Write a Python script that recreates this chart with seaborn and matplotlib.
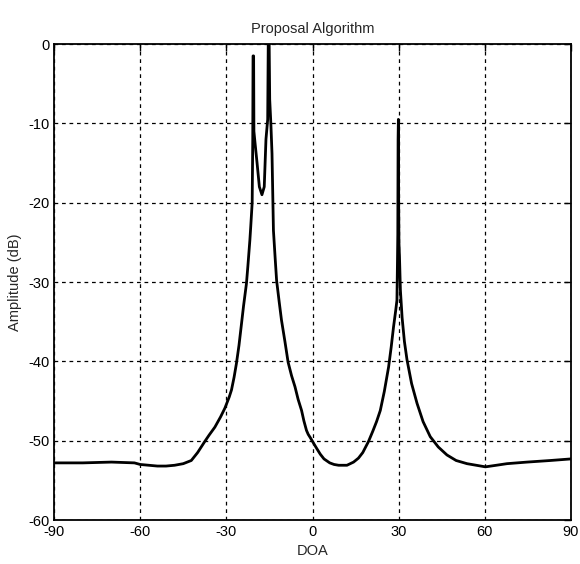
import matplotlib
matplotlib.use("Agg")
import matplotlib.pyplot as plt
import seaborn as sns
import pandas as pd

doa = [-90, -80, -70, -62, -60, -57, -54, -51, -48, -45, -42.2, -40, -37.5, -36, -34.0,
       -32, -30.5, -29, -28.2, -27.3, -26.5, -25.6, -24.7, -24, -23.0, -22.5, -21.8,
       -21.5, -21.0, -20.8, -20.7, -20.5, -20.4, -20.0, -19.3, -18.5, -17.6, -16.8,
       -16.2, -15.6, -15.4, -15.1, -14.9, -14.5, -14.1, -13.6, -13.0, -12.5, -11.6,
       -10.8, -9.6, -8.5, -7.3, -6.1, -5.0, -3.8, -3.0, -2.1, -1.5, -0.8, 0.5, 1.5, 2.7,
       4.0, 6.0, 7.5, 9.1, 12.0, 14.3, 16.0, 17.5, 19.5, 21.0, 22.3, 23.6, 25.0, 26.5,
       27.4, 28.2, 29.0, 29.4, 29.6, 29.7, 29.8, 29.9, 30.0, 30.1, 30.3, 30.6, 31.2,
       32.0, 32.9, 34.5, 36.4, 38.5, 41.0, 43.8, 46.8, 50.0, 53.8, 57.0, 60.2, 64.0,
       67.7, 74.7, 82.8, 90]
amp = [-52.8, -52.8, -52.7, -52.8, -53.0, -53.1, -53.2, -53.2, -53.1, -52.9, -52.5,
       -51.5, -50.1, -49.3, -48.3, -47.0, -45.9, -44.5, -43.6, -42.0, -40.3, -38.0,
       -35.2, -33.0, -30.2, -28.0, -24.7, -23.0, -20.0, -12.0, -1.5, -1.5, -11.0, -12.5,
       -15.0, -18.0, -19.0, -18.0, -12.0, -9.5, 0.5, 0.5, -7.0, -10.0, -13.8, -23.5,
       -27.0, -29.8, -32.5, -34.8, -37.5, -40.1, -41.8, -43.2, -44.8, -46.2, -47.5,
       -48.7, -49.2, -49.6, -50.4, -51.0, -51.7, -52.3, -52.8, -53.0, -53.1, -53.1,
       -52.7, -52.2, -51.5, -50.1, -48.8, -47.6, -46.2, -43.8, -40.7, -38.2, -35.7,
       -33.5, -32.3, -27.0, -24.0, -12.0, -9.5, -20.0, -25.0, -27.0, -31.0, -34.5,
       -37.5, -39.8, -42.8, -45.3, -47.6, -49.5, -50.8, -51.8, -52.5, -52.9, -53.1,
       -53.3, -53.1, -52.9, -52.7, -52.5, -52.3]

xticks = [-90, -60, -30, 0, 30, 60, 90]
yticks = [-60, -50, -40, -30, -20, -10, 0]

sns.set_style("white")
plt.rcParams["font.family"] = ["Liberation Sans", "DejaVu Sans"]
plt.rcParams["axes.unicode_minus"] = False

df = pd.DataFrame({"DOA": doa, "Amplitude": amp})

fig = plt.figure(figsize=(5.8, 5.64), dpi=100)
ax = fig.add_axes([54/580, 1-520/564, (571-54)/580, (520-44)/564])
sns.lineplot(data=df, x="DOA", y="Amplitude", ax=ax, color="black", linewidth=2.0,
             sort=False, estimator=None)
ax.set_xlim(-90, 90)
ax.set_ylim(-60, 0)
ax.set_xticks(xticks)
ax.set_yticks(yticks)
ax.grid(True, color="black", linestyle=(0, (3, 3)), linewidth=0.9)
for s in ax.spines.values():
    s.set_color("black")
    s.set_linewidth(1.3)
    s.set_visible(True)
ax.tick_params(direction="in", length=5, top=True, right=True, labelsize=10.5,
               colors="black", width=1)
ax.set_xlabel("DOA", fontsize=10.5, labelpad=4)
ax.set_ylabel("Amplitude (dB)", fontsize=10.5, labelpad=4)
ax.set_title("Proposal Algorithm", fontsize=10.5, pad=8)
fig.savefig("out.png", dpi=100)
